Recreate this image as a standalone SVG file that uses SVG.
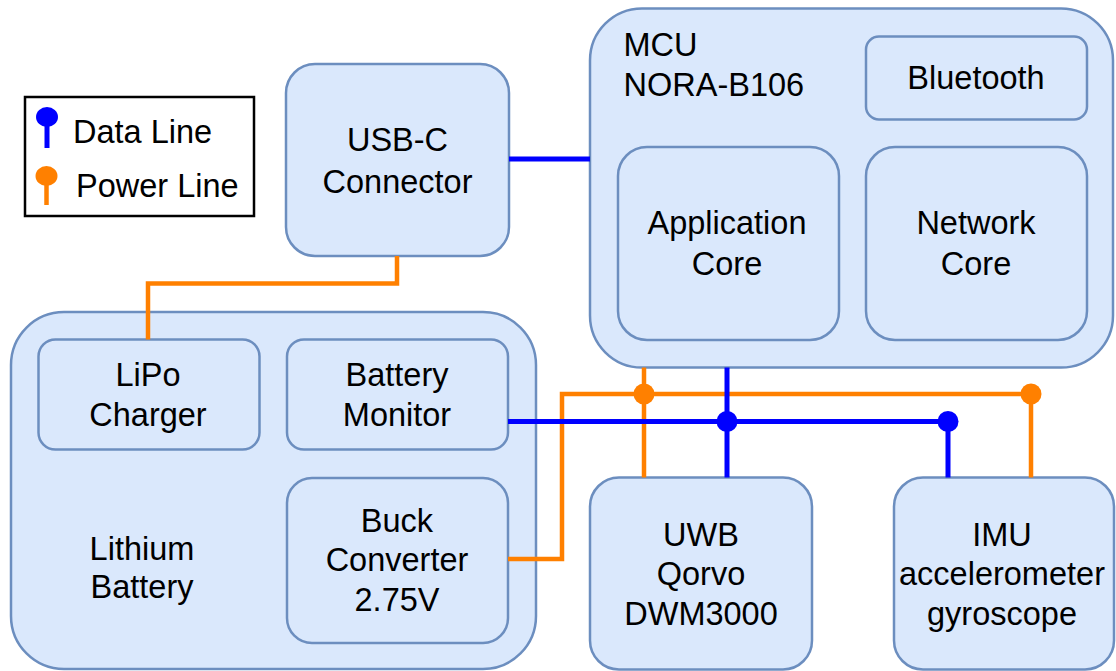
<svg xmlns="http://www.w3.org/2000/svg" width="1116" height="671" viewBox="0 0 1116 671">
  <style>
    .box { fill: #dae8fc; stroke: #6c8ebf; stroke-width: 2.5; }
    .t { font-family: "Liberation Sans", Arial, sans-serif; font-size: 32.5px; fill: #000000; }
    .c { text-anchor: middle; }
    .data { fill: none; stroke: #0000ff; stroke-width: 5; }
    .power { fill: none; stroke: #ff8000; stroke-width: 4.5; }
    .dd { fill: #0000ff; }
    .pd { fill: #ff8000; }
  </style>
  <rect width="1116" height="671" fill="#ffffff"/>

  <g id="legend">
    <rect x="25" y="97" width="229" height="119" fill="#ffffff" stroke="#000000" stroke-width="2.5"/>
    <line x1="47" y1="117" x2="47" y2="148" class="data"/>
    <ellipse cx="47" cy="117" rx="11" ry="10" class="dd"/>
    <text x="73" y="142.5" class="t">Data Line</text>
    <line x1="46.5" y1="176" x2="46.5" y2="205" class="power" stroke-width="5"/>
    <ellipse cx="46.5" cy="176" rx="11" ry="10" class="pd"/>
    <text x="76" y="197" class="t">Power Line</text>
  </g>

  <g id="usbc">
    <rect x="286" y="64" width="223" height="192" rx="29" ry="29" class="box"/>
    <text x="397.5" y="151" class="t c">USB-C</text>
    <text x="397.5" y="192.5" class="t c">Connector</text>
  </g>

  <g id="mcu">
    <rect x="590" y="8.5" width="523" height="359" rx="52" ry="52" class="box"/>
    <text x="623.5" y="56" class="t">MCU</text>
    <text x="623.5" y="95.5" class="t">NORA-B106</text>
  </g>
  <g id="bluetooth">
    <rect x="866" y="36.5" width="221" height="83" rx="13" ry="13" class="box"/>
    <text x="976" y="88.5" class="t c">Bluetooth</text>
  </g>
  <g id="appcore">
    <rect x="618" y="147" width="221" height="193" rx="29" ry="29" class="box"/>
    <text x="727" y="234" class="t c">Application</text>
    <text x="727" y="274.5" class="t c">Core</text>
  </g>
  <g id="netcore">
    <rect x="866" y="147" width="221" height="193" rx="29" ry="29" class="box"/>
    <text x="976" y="234" class="t c">Network</text>
    <text x="976" y="274.5" class="t c">Core</text>
  </g>

  <g id="battery">
    <rect x="11" y="312" width="525" height="357" rx="53" ry="53" class="box"/>
    <text x="142" y="560" class="t c">Lithium</text>
    <text x="142" y="597.5" class="t c">Battery</text>
  </g>
  <g id="lipo">
    <rect x="38.5" y="339.5" width="221" height="110" rx="17" ry="17" class="box"/>
    <text x="148" y="386" class="t c">LiPo</text>
    <text x="148" y="425.5" class="t c">Charger</text>
  </g>
  <g id="batmon">
    <rect x="287" y="339.5" width="221" height="110" rx="17" ry="17" class="box"/>
    <text x="397" y="386" class="t c">Battery</text>
    <text x="397" y="425.5" class="t c">Monitor</text>
  </g>
  <g id="buck">
    <rect x="287" y="478" width="221" height="165" rx="25" ry="25" class="box"/>
    <text x="397" y="532" class="t c">Buck</text>
    <text x="397" y="571" class="t c">Converter</text>
    <text x="397" y="610.5" class="t c">2.75V</text>
  </g>

  <g id="uwb">
    <rect x="590" y="477.5" width="222" height="192" rx="29" ry="29" class="box"/>
    <text x="701" y="546" class="t c">UWB</text>
    <text x="701" y="585" class="t c">Qorvo</text>
    <text x="701" y="625" class="t c">DWM3000</text>
  </g>
  <g id="imu">
    <rect x="894" y="477.5" width="220" height="192" rx="29" ry="29" class="box"/>
    <text x="1002" y="546" class="t c">IMU</text>
    <text x="1002" y="585" class="t c">accelerometer</text>
    <text x="1002" y="625" class="t c">gyroscope</text>
  </g>

  <g id="connectors">
    <polyline points="509,159 590,159" class="data"/>
    <polyline points="397,256 397,283.5 148,283.5 148,339.5" class="power"/>
    <polyline points="508,559 562,559 562,394 1031,394 1031,477.5" class="power"/>
    <polyline points="644,367.5 644,477.5" class="power"/>
    <circle cx="644" cy="394" r="10.5" class="pd"/>
    <circle cx="1031" cy="394" r="10.5" class="pd"/>
    <polyline points="508,421.5 948,421.5 948,477.5" class="data"/>
    <polyline points="727,367.5 727,477.5" class="data"/>
    <circle cx="727" cy="421.5" r="10.5" class="dd"/>
    <circle cx="948" cy="421.5" r="10.5" class="dd"/>
  </g>
</svg>
